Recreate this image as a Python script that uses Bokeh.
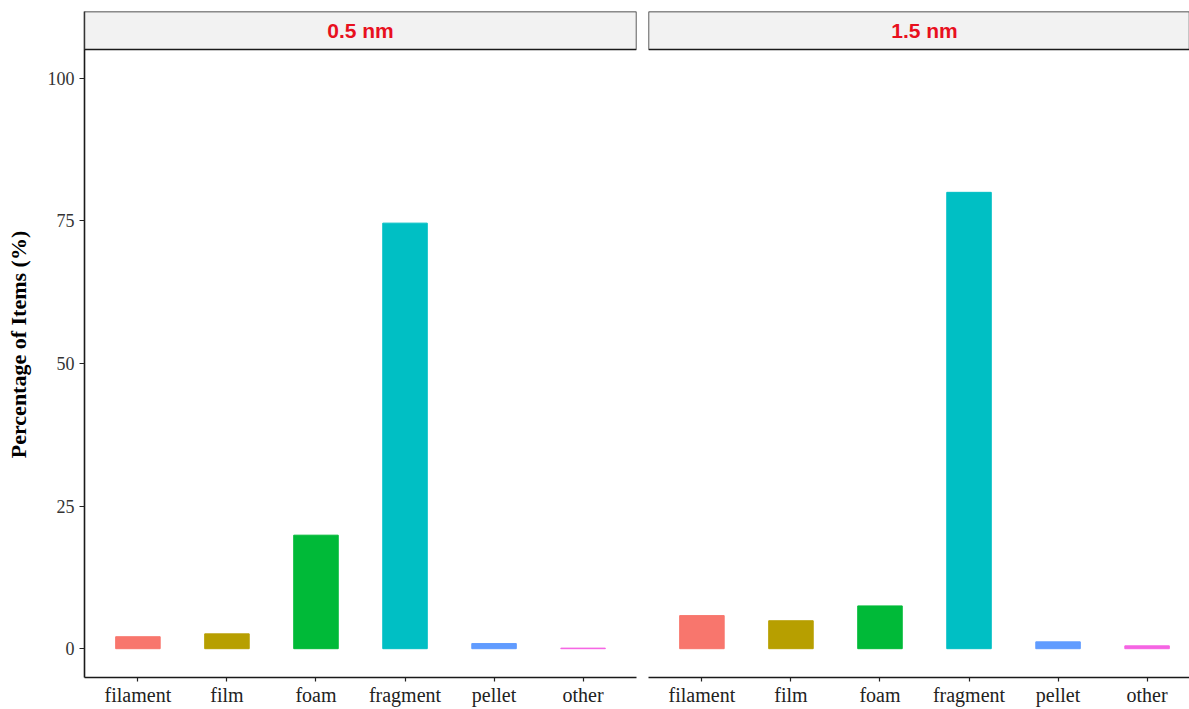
import numpy as np
from bokeh.plotting import figure
from bokeh.models import Range1d, FixedTicker, BoxAnnotation, Label, ColumnDataSource
from bokeh.layouts import row
from bokeh.embed import file_html
from bokeh.resources import INLINE

# ---- data ----
categories = ["filament", "film", "foam", "fragment", "pellet", "other"]
pct_05nm = [2.1, 2.6, 19.9, 74.6, 0.9, 0.1]
pct_15nm = [5.8, 4.9, 7.5, 80.0, 1.2, 0.5]
panel_titles = ["0.5 nm", "1.5 nm"]
cat_colors = ["#F8766D", "#B79F00", "#00BA38", "#00BFC4", "#619CFF", "#F564E3"]
y_ticks = [0, 25, 50, 75, 100]
y_label = "Percentage of Items (%)"

# ---- layout constants ----
PX_PER_UNIT = 552 / 6.2
Y_LO, Y_HI = -5.05, 105.05
STRIP_TOP = 111.7
H = 708

xpos = np.arange(1, len(categories) + 1)
label_over = {int(i): c for i, c in zip(xpos, categories)}


def make_panel(values, title, first, frame_w, left_b, right_b):
    x_end = 0.4 + frame_w / PX_PER_UNIT
    p = figure(width=left_b + frame_w + right_b, height=H,
               x_range=Range1d(0.4, x_end), y_range=Range1d(Y_LO, STRIP_TOP),
               output_backend="svg", toolbar_location=None,
               min_border_left=left_b, min_border_right=right_b,
               min_border_top=11, min_border_bottom=20,
               y_axis_location="left" if first else None)
    p.outline_line_color = None
    p.background_fill_color = "white"
    p.border_fill_color = "white"
    p.xgrid.visible = False
    p.ygrid.visible = False

    src = ColumnDataSource(dict(x=xpos, top=values, color=cat_colors))
    p.vbar(x="x", top="top", bottom=0, width=0.5, color="color", source=src)

    # facet strip
    p.add_layout(BoxAnnotation(bottom=Y_HI, fill_color="#F2F2F2", fill_alpha=1.0,
                               line_color="#1a1a1a", line_alpha=1.0, line_width=1.4))
    p.add_layout(Label(x=float(np.mean(xpos)), y=(Y_HI + STRIP_TOP) / 2, text=title,
                       text_align="center", text_baseline="middle",
                       text_font="Liberation Sans", text_font_style="bold",
                       text_font_size="21px", text_color="#E8101E", level="overlay"))

    xa = p.xaxis[0]
    xa.ticker = FixedTicker(ticks=list(xpos))
    xa.major_label_overrides = label_over
    xa.major_label_text_font = "Liberation Serif"
    xa.major_label_text_font_size = "20px"
    xa.major_label_text_color = "#222222"
    xa.major_label_standoff = 2
    xa.axis_line_color = "#1a1a1a"
    xa.axis_line_width = 1.6
    xa.major_tick_line_color = "#222222"
    xa.major_tick_line_width = 1.2
    xa.major_tick_out = 4
    xa.major_tick_in = 0
    xa.minor_tick_line_color = None

    if first:
        ya = p.yaxis[0]
        ya.ticker = FixedTicker(ticks=y_ticks)
        ya.major_label_text_font = "Liberation Serif"
        ya.major_label_text_font_size = "18px"
        ya.major_label_text_color = "#333333"
        ya.major_label_standoff = 5
        ya.axis_line_color = "#1a1a1a"
        ya.axis_line_width = 1.6
        ya.major_tick_line_color = "#222222"
        ya.major_tick_line_width = 1.2
        ya.major_tick_out = 5
        ya.major_tick_in = 0
        ya.minor_tick_line_color = None
        ya.axis_label = y_label
        ya.axis_label_text_font = "Liberation Serif"
        ya.axis_label_text_font_style = "bold"
        ya.axis_label_text_font_size = "22px"
        ya.axis_label_text_color = "black"
        ya.axis_label_standoff = 14
    return p


p1 = make_panel(pct_05nm, panel_titles[0], True, 552, 84, 6)
p2 = make_panel(pct_15nm, panel_titles[1], False, 541, 6, 0)

layout = row(p1, p2)
open("out.html", "w").write(file_html(layout, INLINE))
